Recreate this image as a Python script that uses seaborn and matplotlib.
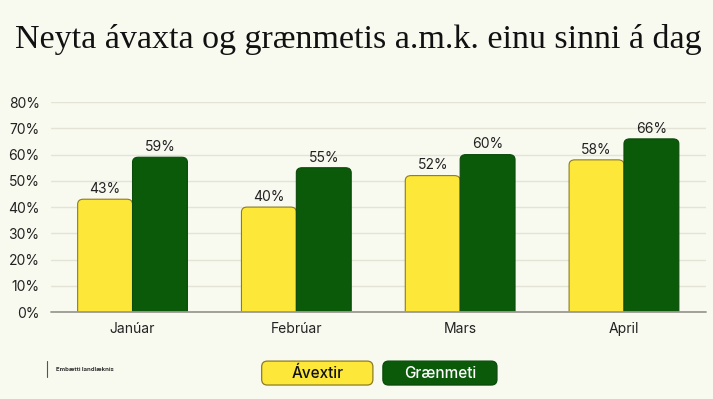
import matplotlib.pyplot as plt
import seaborn as sns
import pandas as pd
from matplotlib.patches import FancyBboxPatch
from matplotlib.lines import Line2D

months = ['Janúar', 'Febrúar', 'Mars', 'April']
avextir = [43, 40, 52, 58]
graenmeti = [59, 55, 60, 66]
series = ['Ávextir', 'Grænmeti']
colors = ['#FDE83A', '#0A5A0A']
edges = ['#8C7C22', '#0A4A0A']
bg = '#F8F9EF'

df = pd.DataFrame({
    'month': months * 2,
    'value': avextir + graenmeti,
    'series': [series[0]] * 4 + [series[1]] * 4,
})

sns.set_style('white')
plt.rcParams['font.family'] = ['Inter', 'DejaVu Sans']

fig = plt.figure(figsize=(7.13, 3.99), dpi=100, facecolor=bg)
ax = fig.add_axes([0.071, 0.218, 0.919, 0.526], facecolor=bg)

sns.barplot(data=df, x='month', y='value', hue='series', palette=colors,
            width=0.67, gap=0, ax=ax, legend=False)

# swap plain bars for ones with rounded tops
for i, p in enumerate(list(ax.patches)):
    x, w, h = p.get_x(), p.get_width(), p.get_height()
    k = i // 4
    rb = FancyBboxPatch((x, -4), w, h + 4,
                        boxstyle='round,pad=0,rounding_size=0.035',
                        mutation_aspect=55, fc=colors[k], ec=edges[k],
                        lw=0.8, zorder=3)
    ax.add_patch(rb)
    p.set_visible(False)
    ax.text(x + w / 2, h + 1.2, f'{h:.0f}%', ha='center', va='bottom',
            fontsize=10, color='#222222', zorder=4)

ax.set_ylim(0, 80)
ax.set_xlim(-0.5, 3.5)
ax.set_yticks(range(0, 81, 10))
ax.set_yticklabels([f'{v}%' for v in range(0, 81, 10)])
ax.yaxis.grid(True, color='#E3E4D6', lw=1)
ax.set_axisbelow(True)
for s in ax.spines.values():
    s.set_visible(False)
ax.axhline(0, color='#9A9A94', lw=1.3, zorder=5, clip_on=False)
ax.tick_params(axis='both', length=0, labelsize=10, colors='#222222')
ax.tick_params(axis='y', pad=8)
ax.tick_params(axis='x', pad=7)
ax.set_xlabel('')
ax.set_ylabel('')

fig.text(0.502, 0.9, 'Neyta ávaxta og grænmetis a.m.k. einu sinni á dag',
         ha='center', va='center', fontsize=24.5, color='#111111',
         family=['Liberation Serif', 'DejaVu Serif'])

# legend as filled boxes
boxes = [(0.367, 0.156), (0.537, 0.160)]
txtcol = ['#111111', '#FFFFFF']
for (x0, w), name, c, e, tc in zip(boxes, series, colors, edges, txtcol):
    fig.add_artist(FancyBboxPatch((x0, 0.035), w, 0.060,
                                  boxstyle='round,pad=0,rounding_size=0.008',
                                  mutation_aspect=1.8, fc=c, ec=e, lw=0.9,
                                  transform=fig.transFigure))
    fig.text(x0 + w / 2, 0.065, name, ha='center', va='center', fontsize=11,
             color=tc, weight='medium')

fig.add_artist(Line2D([0.066, 0.066], [0.055, 0.095], color='#555555', lw=0.8,
                      transform=fig.transFigure))
fig.text(0.078, 0.075, 'Embætti landlæknis', ha='left', va='center',
         fontsize=4.3, color='#333333', weight='bold')

fig.savefig('out.png', dpi=100, facecolor=bg)
